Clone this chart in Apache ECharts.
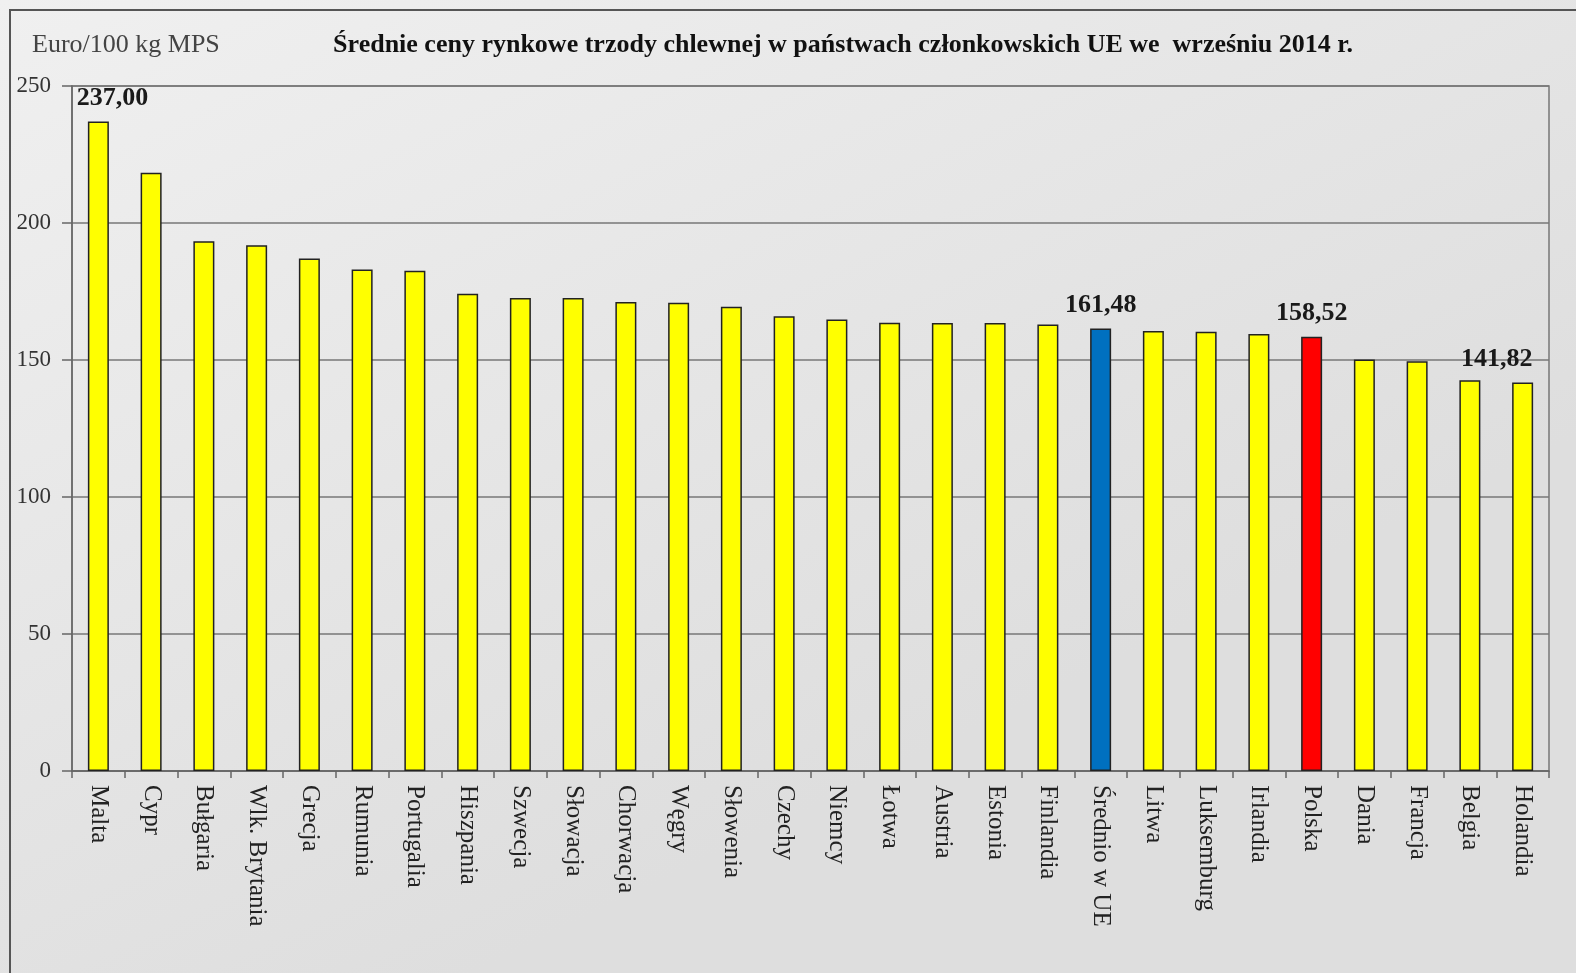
<!DOCTYPE html>
<html>
<head>
<meta charset="utf-8">
<script src="https://cdn.jsdelivr.net/npm/echarts@6/dist/echarts.min.js"></script>
<style>
html,body{margin:0;padding:0;width:1576px;height:973px;overflow:hidden;}
#c{width:1576px;height:973px;}
</style>
</head>
<body>
<div id="c"></div>
<script>
const categories = ['Malta','Cypr','Bułgaria','Wlk. Brytania','Grecja','Rumunia','Portugalia','Hiszpania','Szwecja','Słowacja','Chorwacja','Węgry','Słowenia','Czechy','Niemcy','Łotwa','Austria','Estonia','Finlandia','Średnio w UE','Litwa','Luksemburg','Irlandia','Polska','Dania','Francja','Belgia','Holandia'];
const values = [237.00,218.3,193.3,191.9,187.0,183.0,182.6,174.2,172.6,172.6,171.2,170.9,169.4,166.0,164.8,163.6,163.5,163.5,163.0,161.48,160.6,160.3,159.5,158.52,150.2,149.5,142.6,141.82];
const highlight = {'Średnio w UE':'#0070c0','Polska':'#ff0000'};
const labelled = {'Malta':[14,0],'Średnio w UE':[0,0],'Polska':[0,0],'Holandia':[-26,0]};
const yTicks = [0,50,100,150,200,250];
const titleText = 'Średnie ceny rynkowe trzody chlewnej w państwach członkowskich UE we  wrześniu 2014 r.';
const unitText = 'Euro/100 kg MPS';

const serif = '"Liberation Serif","DejaVu Serif",serif';
const data = categories.map((c,i)=>{
  const item = {value: values[i], itemStyle:{color: highlight[c] || '#ffff00'}};
  if (labelled[c]) {
    item.label = {show:true, position:'top', distance:10, offset:labelled[c],
      formatter: p => p.value.toFixed(2).replace('.',','),
      fontFamily: serif, fontWeight:'bold', fontSize:26, color:'#1a1a1a'};
  }
  return item;
});

const chart = echarts.init(document.getElementById('c'));
chart.setOption({
  backgroundColor: {type:'linear', x:0, y:0, x2:0.3, y2:1, colorStops:[{offset:0,color:'#f0f0f0'},{offset:1,color:'#dedede'}]},
  animation:false,
  graphic:[
    {type:'rect', shape:{x:10,y:10,width:1600,height:1000}, style:{fill:'none', stroke:'#555', lineWidth:2}, z:-1},
    {type:'text', x:32, y:45, style:{text:unitText, font:'26px '+serif, fill:'#444', textVerticalAlign:'middle'}},
    {type:'text', x:843, y:45, style:{text:titleText, font:'bold 26px '+serif, fill:'#111', textAlign:'center', textVerticalAlign:'middle'}}
  ],
  grid:{left:72, right:27, top:86, bottom:202, show:true, borderColor:'#777', borderWidth:1.5, backgroundColor:'transparent'},
  xAxis:{
    type:'category', data:categories,
    axisLine:{lineStyle:{color:'#666', width:1.5}},
    axisTick:{show:true, alignWithLabel:false, length:7, lineStyle:{color:'#666', width:1.5}},
    axisLabel:{rotate:-90, margin:14, fontFamily:serif, fontSize:25, color:'#222', interval:0}
  },
  yAxis:{
    type:'value', min:0, max:250, interval:50,
    axisLine:{show:true, lineStyle:{color:'#666', width:1.5}},
    axisTick:{show:true, length:10, lineStyle:{color:'#666', width:1.5}},
    axisLabel:{margin:21, fontFamily:serif, fontSize:23, color:'#333',
      formatter: v => yTicks.includes(v) ? String(v) : ''},
    splitLine:{show:true, lineStyle:{color:'#777', width:1.5}}
  },
  series:[{
    type:'bar', data:data, barWidth:21,
    itemStyle:{borderColor:'#222', borderWidth:1.5}
  }]
});
</script>
</body>
</html>
